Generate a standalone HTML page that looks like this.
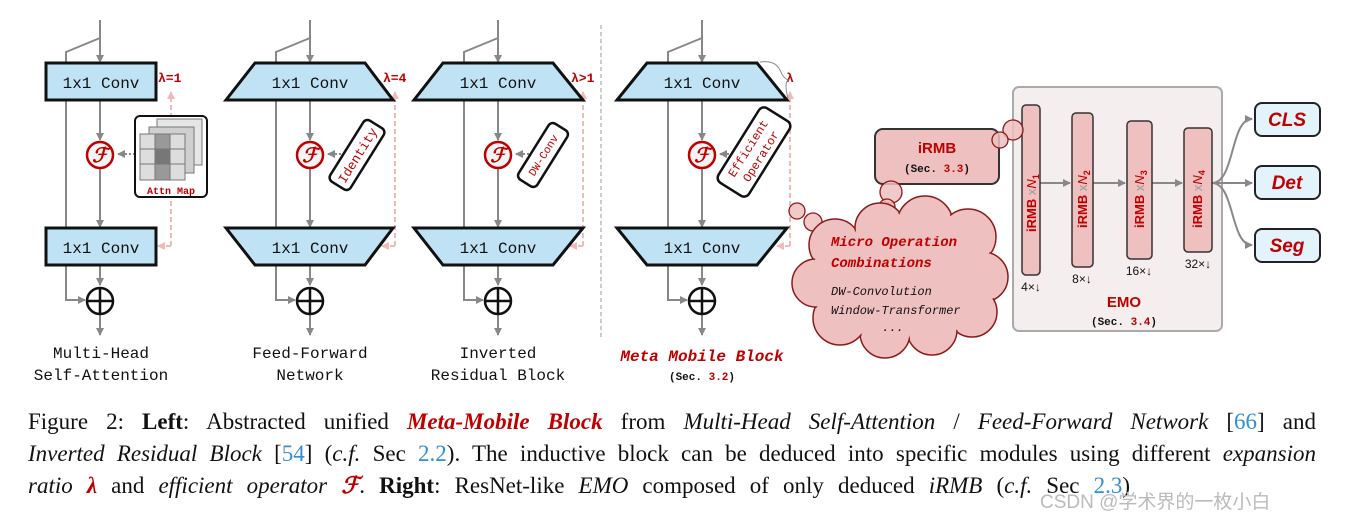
<!DOCTYPE html>
<html><head><meta charset="utf-8"><style>
html,body{margin:0;padding:0;background:#fff;}
body{width:1345px;height:522px;position:relative;overflow:hidden;}
svg{position:absolute;left:0;top:0;}
.cap{position:absolute;left:28px;width:1288px;font-family:"Liberation Serif",serif;font-size:23px;color:#111;white-space:nowrap;}
.j{text-align:justify;text-align-last:justify;}
.r{color:#c00000;}.b{color:#2f8fd8;}
</style></head><body>
<svg width="1345" height="400" viewBox="0 0 1345 400" xmlns="http://www.w3.org/2000/svg">
<defs>
<marker id="ag" markerWidth="8" markerHeight="8" refX="7" refY="4" orient="auto" markerUnits="userSpaceOnUse"><path d="M0,0 L8,4 L0,8 z" fill="#888"/></marker>
<marker id="ap" markerWidth="8" markerHeight="8" refX="7" refY="4" orient="auto" markerUnits="userSpaceOnUse"><path d="M0,0 L8,4 L0,8 z" fill="#f3b8b8"/></marker>
</defs>
<rect x="0" y="0" width="1345" height="400" fill="#fff"/>
<g stroke="#888" stroke-width="2" fill="none">
<path d="M100,20 V62" marker-end="url(#ag)"/><path d="M100,38 L66,52 V300 H85" marker-end="url(#ag)"/>
<path d="M100,100 V140" marker-end="url(#ag)"/><path d="M100,169 V227" marker-end="url(#ag)"/>
<path d="M100,265 V285" marker-end="url(#ag)"/><path d="M100,314 V335" marker-end="url(#ag)"/>
<path d="M310,20 V62" marker-end="url(#ag)"/><path d="M310,38 L276,52 V300 H295" marker-end="url(#ag)"/>
<path d="M310,100 V140" marker-end="url(#ag)"/><path d="M310,169 V227" marker-end="url(#ag)"/>
<path d="M310,265 V285" marker-end="url(#ag)"/><path d="M310,314 V335" marker-end="url(#ag)"/>
<path d="M498,20 V62" marker-end="url(#ag)"/><path d="M498,38 L464,52 V300 H483" marker-end="url(#ag)"/>
<path d="M498,100 V140" marker-end="url(#ag)"/><path d="M498,169 V227" marker-end="url(#ag)"/>
<path d="M498,265 V285" marker-end="url(#ag)"/><path d="M498,314 V335" marker-end="url(#ag)"/>
<path d="M702,20 V62" marker-end="url(#ag)"/><path d="M702,38 L668,52 V300 H687" marker-end="url(#ag)"/>
<path d="M702,100 V140" marker-end="url(#ag)"/><path d="M702,169 V227" marker-end="url(#ag)"/>
<path d="M702,265 V285" marker-end="url(#ag)"/><path d="M702,314 V335" marker-end="url(#ag)"/>
</g>
<g stroke="#f3b8b8" stroke-width="2" fill="none" stroke-dasharray="5,3">
<path d="M171,246 V92" marker-end="url(#ap)"/><path d="M171,246 H158" marker-end="url(#ap)"/>
<path d="M395,246 V92" marker-end="url(#ap)"/><path d="M395,246 H382" marker-end="url(#ap)"/>
<path d="M583,246 V92" marker-end="url(#ap)"/><path d="M583,246 H570" marker-end="url(#ap)"/>
<path d="M790,246 V92" marker-end="url(#ap)"/><path d="M790,246 H777" marker-end="url(#ap)"/>
</g>
<g stroke="#888" stroke-width="2" fill="none" stroke-dasharray="2,2">
<path d="M135,154 H118" marker-end="url(#ag)"/><path d="M345,154 H328" marker-end="url(#ag)"/>
<path d="M533,154 H516" marker-end="url(#ag)"/><path d="M737,154 H720" marker-end="url(#ag)"/>
</g>
<line x1="601" y1="25" x2="601" y2="340" stroke="#aaa" stroke-width="1.2" stroke-dasharray="4,3"/>
<g fill="#bfe3f4" stroke="#111" stroke-width="3">
<rect x="46" y="63" width="110" height="37"/><rect x="46" y="228" width="110" height="37"/>
<polygon points="255,63 365,63 393,100 226,100"/><polygon points="226,228 393,228 365,265 255,265"/>
<polygon points="443,63 553,63 583,100 414,100"/><polygon points="414,228 583,228 553,265 443,265"/>
<polygon points="647,63 757,63 787,100 617,100"/><polygon points="617,228 787,228 757,265 647,265"/>
</g>
<g font-family="Liberation Mono,monospace" font-size="16" fill="#111" text-anchor="middle">
<text x="101" y="88">1x1 Conv</text><text x="101" y="253">1x1 Conv</text>
<text x="310" y="88">1x1 Conv</text><text x="310" y="253">1x1 Conv</text>
<text x="498" y="88">1x1 Conv</text><text x="498" y="253">1x1 Conv</text>
<text x="702" y="88">1x1 Conv</text><text x="702" y="253">1x1 Conv</text>
<text x="101" y="358">Multi-Head</text><text x="101" y="380">Self-Attention</text>
<text x="310" y="358">Feed-Forward</text><text x="310" y="380">Network</text>
<text x="498" y="358">Inverted</text><text x="498" y="380">Residual Block</text>
</g>
<text x="702" y="361" text-anchor="middle" font-family="Liberation Mono,monospace" font-size="16" font-weight="bold" font-style="italic" fill="#c00000">Meta Mobile Block</text>
<text x="702" y="380" text-anchor="middle" font-family="Liberation Mono,monospace" font-size="11" font-weight="bold" fill="#111">(Sec. <tspan fill="#c00000">3.2</tspan>)</text>
<g font-family="Liberation Mono,monospace" font-size="13" font-weight="bold" fill="#c00000">
<text x="158" y="82">λ=1</text><text x="383" y="82">λ=4</text><text x="571" y="82">λ&gt;1</text><text x="786" y="82">λ</text>
</g>
<path d="M760,62 Q775,60 780,70 Q783,78 788,80 Q784,84 788,98" stroke="#888" fill="none" stroke-width="1"/>
<g>
<circle cx="100" cy="155" r="13" fill="#f4f4f4" stroke="#c00000" stroke-width="2.5"/>
<circle cx="310" cy="155" r="13" fill="#f4f4f4" stroke="#c00000" stroke-width="2.5"/>
<circle cx="498" cy="155" r="13" fill="#f4f4f4" stroke="#c00000" stroke-width="2.5"/>
<circle cx="702" cy="155" r="13" fill="#f4f4f4" stroke="#c00000" stroke-width="2.5"/>
</g>
<g font-family="Liberation Serif,serif" font-style="italic" font-weight="bold" font-size="20" fill="#c00000" text-anchor="middle">
<text x="100" y="162">ℱ</text><text x="310" y="162">ℱ</text><text x="498" y="162">ℱ</text><text x="702" y="162">ℱ</text>
</g>
<g stroke="#111" stroke-width="2.5" fill="#fff">
<circle cx="100" cy="301" r="13"/><path d="M87,301 H113 M100,288 V314"/>
<circle cx="310" cy="301" r="13"/><path d="M297,301 H323 M310,288 V314"/>
<circle cx="498" cy="301" r="13"/><path d="M485,301 H511 M498,288 V314"/>
<circle cx="702" cy="301" r="13"/><path d="M689,301 H715 M702,288 V314"/>
</g>
<rect x="135" y="116" width="72" height="81" rx="5" fill="#fff" stroke="#111" stroke-width="2"/>
<g stroke="#777" stroke-width="1">
<rect x="157" y="119" width="45" height="46" fill="#e6e6e6"/>
<rect x="149" y="127" width="45" height="46" fill="#cfcfcf"/>
<rect x="140" y="134" width="45" height="46" fill="#ddd"/>
<rect x="155" y="134" width="15" height="46" fill="#999"/>
<rect x="155" y="149" width="15" height="15" fill="#777"/>
<path d="M140,149 H185 M140,164 H185 M155,134 V180 M170,134 V180"/>
</g>
<text x="171" y="194" text-anchor="middle" font-family="Liberation Mono,monospace" font-size="10" font-weight="bold" fill="#c00000">Attn Map</text>
<g transform="translate(357,155) rotate(-58)"><rect x="-36" y="-12" width="72" height="24" rx="5" fill="#fff" stroke="#111" stroke-width="2.5"/><text x="0" y="5" text-anchor="middle" font-family="Liberation Mono,monospace" font-size="13" fill="#c00000">Identity</text></g>
<g transform="translate(543,155) rotate(-58)"><rect x="-33" y="-11" width="66" height="22" rx="5" fill="#fff" stroke="#111" stroke-width="2.5"/><text x="0" y="4" text-anchor="middle" font-family="Liberation Mono,monospace" font-size="11" fill="#c00000">DW-Conv</text></g>
<g transform="translate(754,152) rotate(-58)"><rect x="-44" y="-18" width="88" height="36" rx="6" fill="#fff" stroke="#111" stroke-width="2.5"/><text x="0" y="-3" text-anchor="middle" font-family="Liberation Mono,monospace" font-size="12" fill="#c00000">Efficient</text><text x="0" y="12" text-anchor="middle" font-family="Liberation Mono,monospace" font-size="12" fill="#c00000">Operator</text></g>
<rect x="1013" y="87" width="209" height="244" rx="6" fill="#f5eeee" stroke="#aaa" stroke-width="2"/>
<g stroke="#888" stroke-width="2" fill="none">
<path d="M1040,183 H1070" marker-end="url(#ag)"/><path d="M1093,183 H1125" marker-end="url(#ag)"/><path d="M1152,183 H1182" marker-end="url(#ag)"/>
<path d="M1212,183 C1235,183 1230,119 1252,119" marker-end="url(#ag)"/>
<path d="M1212,183 H1252" marker-end="url(#ag)"/>
<path d="M1212,183 C1235,183 1230,245 1252,245" marker-end="url(#ag)"/>
</g>
<g fill="#efc0c0" stroke="#333" stroke-width="1.5">
<rect x="1022" y="105" width="18" height="170" rx="4"/>
<rect x="1072" y="113" width="21" height="154" rx="4"/>
<rect x="1127" y="121" width="25" height="138" rx="4"/>
<rect x="1184" y="128" width="28" height="124" rx="4"/>
</g>
<g font-family="Liberation Sans,sans-serif" font-size="13" font-weight="bold" fill="#c00000">
<text transform="translate(1036,232) rotate(-90)">iRMB <tspan fill="#999" font-weight="normal">x</tspan><tspan font-style="italic" font-weight="normal">N</tspan><tspan font-size="9" dy="3">1</tspan></text>
<text transform="translate(1087,228) rotate(-90)">iRMB <tspan fill="#999" font-weight="normal">x</tspan><tspan font-style="italic" font-weight="normal">N</tspan><tspan font-size="9" dy="3">2</tspan></text>
<text transform="translate(1144,228) rotate(-90)">iRMB <tspan fill="#999" font-weight="normal">x</tspan><tspan font-style="italic" font-weight="normal">N</tspan><tspan font-size="9" dy="3">3</tspan></text>
<text transform="translate(1202,228) rotate(-90)">iRMB <tspan fill="#999" font-weight="normal">x</tspan><tspan font-style="italic" font-weight="normal">N</tspan><tspan font-size="9" dy="3">4</tspan></text>
</g>
<g font-family="Liberation Sans,sans-serif" font-size="12" fill="#111" text-anchor="middle">
<text x="1031" y="291">4×↓</text><text x="1082" y="283">8×↓</text><text x="1139" y="275">16×↓</text><text x="1198" y="268">32×↓</text>
</g>
<text x="1124" y="307" text-anchor="middle" font-family="Liberation Sans,sans-serif" font-size="15" font-weight="bold" fill="#c00000">EMO</text>
<text x="1124" y="325" text-anchor="middle" font-family="Liberation Mono,monospace" font-size="11" font-weight="bold" fill="#111">(Sec. <tspan fill="#c00000">3.4</tspan>)</text>
<g fill="#e3f3fb" stroke="#222" stroke-width="2">
<rect x="1255" y="103" width="65" height="33" rx="7"/><rect x="1255" y="166" width="65" height="33" rx="7"/><rect x="1255" y="229" width="65" height="33" rx="7"/>
</g>
<g font-family="Liberation Sans,sans-serif" font-size="19" font-weight="bold" font-style="italic" fill="#c00000" text-anchor="middle">
<text x="1287" y="126">CLS</text><text x="1287" y="189">Det</text><text x="1287" y="252">Seg</text>
</g>
<rect x="875" y="129" width="124" height="55" rx="8" fill="#efc0c0" stroke="#333" stroke-width="2"/>
<text x="937" y="153" text-anchor="middle" font-family="Liberation Sans,sans-serif" font-size="15" font-weight="bold" fill="#c00000">iRMB</text>
<text x="937" y="172" text-anchor="middle" font-family="Liberation Mono,monospace" font-size="11" font-weight="bold" fill="#111">(Sec. <tspan fill="#c00000">3.3</tspan>)</text>
<g fill="#efc0c0" fill-opacity="0.85" stroke="#8b1a1a" stroke-width="1.3">
<circle cx="1013" cy="130" r="10"/><circle cx="1000" cy="140" r="8"/>
<circle cx="891" cy="192" r="11"/><circle cx="887" cy="207" r="8"/>
<circle cx="797" cy="211" r="8"/><circle cx="813" cy="222" r="9"/>
</g>
<g fill="#efc0c0" stroke="#8b1a1a" stroke-width="1.5">
<circle cx="835" cy="245" r="26"/><circle cx="880" cy="228" r="25"/><circle cx="925" cy="224" r="28"/><circle cx="968" cy="237" r="28"/>
<circle cx="983" cy="277" r="25"/><circle cx="972" cy="312" r="25"/><circle cx="932" cy="330" r="25"/><circle cx="885" cy="333" r="25"/>
<circle cx="840" cy="318" r="27"/><circle cx="816" cy="283" r="24"/>
</g>
<g fill="#efc0c0">
<circle cx="835" cy="245" r="24.5"/><circle cx="880" cy="228" r="23.5"/><circle cx="925" cy="224" r="26.5"/><circle cx="968" cy="237" r="26.5"/>
<circle cx="983" cy="277" r="23.5"/><circle cx="972" cy="312" r="23.5"/><circle cx="932" cy="330" r="23.5"/><circle cx="885" cy="333" r="23.5"/>
<circle cx="840" cy="318" r="25.5"/><circle cx="816" cy="283" r="22.5"/>
<ellipse cx="900" cy="280" rx="80" ry="55"/>
</g>
<g font-family="Liberation Mono,monospace" font-style="italic">
<text x="831" y="246" font-size="14" font-weight="bold" fill="#c00000">Micro Operation</text>
<text x="831" y="267" font-size="14" font-weight="bold" fill="#c00000">Combinations</text>
<text x="831" y="295" font-size="12" fill="#111">DW-Convolution</text>
<text x="831" y="314" font-size="12" fill="#111">Window-Transformer</text>
<text x="882" y="331" font-size="12" fill="#111">...</text>
</g>
</svg>
<div class="cap j" style="top:409px">Figure 2: <b>Left</b>: Abstracted unified <b><i class="r">Meta-Mobile Block</i></b> from <i>Multi-Head Self-Attention</i> / <i>Feed-Forward Network</i> [<span class="b">66</span>] and</div>
<div class="cap j" style="top:441px"><i>Inverted Residual Block</i> [<span class="b">54</span>] (<i>c.f.</i> Sec <span class="b">2.2</span>). The inductive block can be deduced into specific modules using different <i>expansion</i></div>
<div class="cap j" style="top:473px;width:1102px"><i>ratio</i> <b class="r"><i>λ</i></b> and <i>efficient operator</i> <b class="r"><i>ℱ</i></b>. <b>Right</b>: ResNet-like <i>EMO</i> composed of only deduced <i>iRMB</i> (<i>c.f.</i> Sec <span class="b">2.3</span>)</div>
<div style="position:absolute;left:1040px;top:487px;color:#bbb;font-family:'Liberation Sans','Noto Sans CJK SC',sans-serif;font-size:19px;white-space:nowrap">CSDN @学术界的一枚小白</div>
</body></html>
